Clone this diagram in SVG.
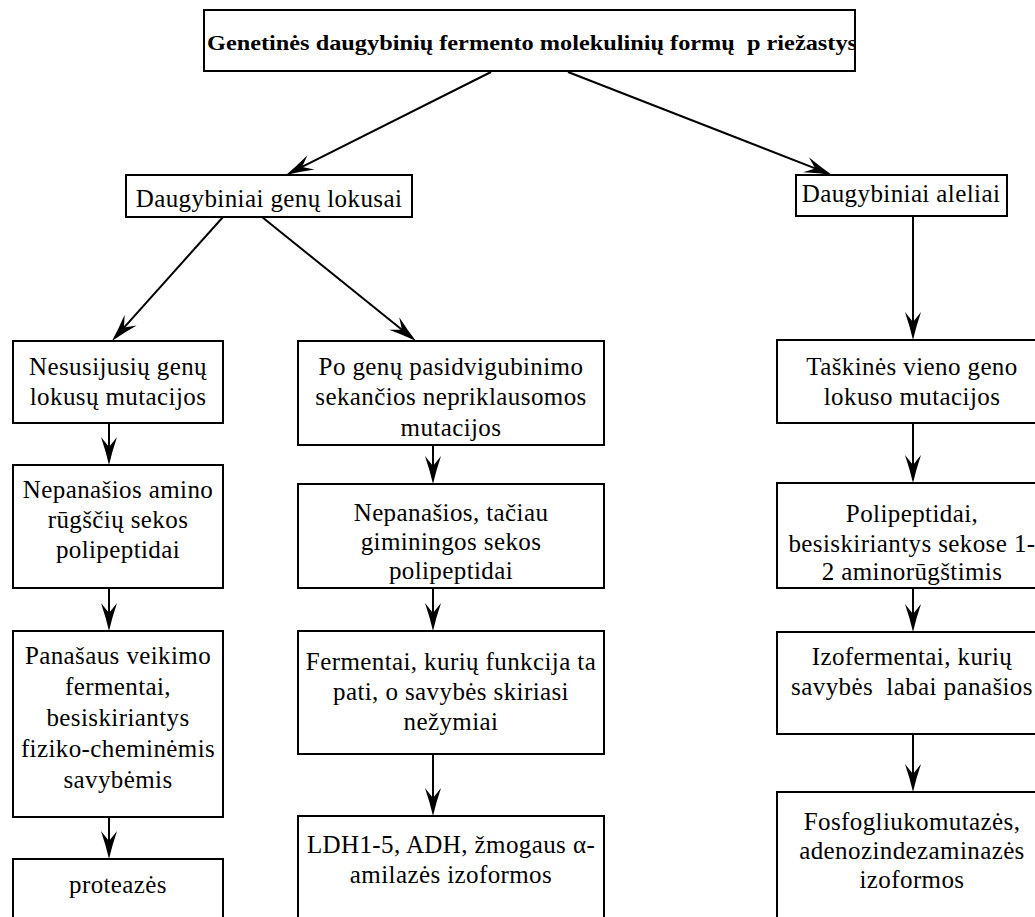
<svg xmlns="http://www.w3.org/2000/svg" width="1035" height="917" viewBox="0 0 1035 917">
<style>
.box{fill:#fff;stroke:#000;stroke-width:2}
.t{font-family:"Liberation Serif","Times New Roman",serif;font-size:25px;letter-spacing:0.4px;fill:#000;text-anchor:middle}
.title{font-family:"Liberation Serif","Times New Roman",serif;font-size:22px;font-weight:bold;fill:#000}
.c{stroke:#000;stroke-width:2;fill:none;marker-end:url(#ah)}
</style>
<defs>
<marker id="ah" markerUnits="userSpaceOnUse" viewBox="-29 -9 30 18" markerWidth="30" markerHeight="18" refX="-14" refY="0" orient="auto">
<path d="M0,0 Q-13,-3 -28,-8 L-18,0 L-28,8 Q-13,3 0,0 Z" fill="#000"/>
</marker>
<clipPath id="tc"><rect x="205" y="11" width="649" height="59"/></clipPath>
</defs>
<rect width="1035" height="917" fill="#fff"/>
<g id="connectors">
<line class="c" x1="491" y1="72" x2="298.5" y2="168.7"/>
<line class="c" x1="568" y1="72" x2="819" y2="169.9"/>
<line class="c" x1="223" y1="217" x2="121.3" y2="330.6"/>
<line class="c" x1="262" y1="217" x2="405.1" y2="332.2"/>
<line class="c" x1="109" y1="423" x2="109" y2="451"/>
<line class="c" x1="109" y1="588" x2="109" y2="617"/>
<line class="c" x1="109" y1="817" x2="109" y2="845"/>
<line class="c" x1="433" y1="445" x2="433" y2="470"/>
<line class="c" x1="433" y1="588" x2="433" y2="617"/>
<line class="c" x1="433" y1="754" x2="433" y2="802"/>
<line class="c" x1="913" y1="216" x2="913" y2="326"/>
<line class="c" x1="913" y1="423" x2="913" y2="469"/>
<line class="c" x1="913" y1="588" x2="913" y2="618"/>
<line class="c" x1="913" y1="734" x2="913" y2="778"/>
</g>
<g id="n-title">
<rect class="box" x="204" y="10" width="651" height="61"/>
<text class="title" x="207" y="50" textLength="650" lengthAdjust="spacingAndGlyphs" clip-path="url(#tc)" xml:space="preserve">Genetinės daugybinių fermento molekulinių formų  p riežastys</text>
</g>
<g id="n-lokusai">
<rect class="box" x="126" y="175" width="286" height="42"/>
<text class="t" x="269" y="207">Daugybiniai genų lokusai</text>
</g>
<g id="n-aleliai">
<rect class="box" x="796" y="175" width="211" height="41"/>
<text class="t" x="901" y="202">Daugybiniai aleliai</text>
</g>
<g id="n-l1">
<rect class="box" x="13" y="341" width="210" height="82"/>
<text class="t" x="118" y="375">Nesusijusių genų</text>
<text class="t" x="118" y="405">lokusų mutacijos</text>
</g>
<g id="n-l2">
<rect class="box" x="13" y="465" width="210" height="123"/>
<text class="t" x="118" y="498">Nepanašios amino</text>
<text class="t" x="118" y="528">rūgščių sekos</text>
<text class="t" x="118" y="558">polipeptidai</text>
</g>
<g id="n-l3">
<rect class="box" x="13" y="631" width="210" height="186"/>
<text class="t" x="118" y="664">Panašaus veikimo</text>
<text class="t" x="118" y="695">fermentai,</text>
<text class="t" x="118" y="726">besiskiriantys</text>
<text class="t" x="118" y="757">fiziko-cheminėmis</text>
<text class="t" x="118" y="788">savybėmis</text>
</g>
<g id="n-l4">
<rect class="box" x="13" y="859" width="210" height="80"/>
<text class="t" x="118" y="893">proteazės</text>
</g>
<g id="n-m1">
<rect class="box" x="298" y="341" width="306" height="104"/>
<text class="t" x="451" y="375">Po genų pasidvigubinimo</text>
<text class="t" x="451" y="405">sekančios nepriklausomos</text>
<text class="t" x="451" y="436">mutacijos</text>
</g>
<g id="n-m2">
<rect class="box" x="298" y="484" width="306" height="104"/>
<text class="t" x="451" y="521">Nepanašios, tačiau</text>
<text class="t" x="451" y="550">giminingos sekos</text>
<text class="t" x="451" y="579">polipeptidai</text>
</g>
<g id="n-m3">
<rect class="box" x="298" y="631" width="306" height="123"/>
<text class="t" x="451" y="670">Fermentai, kurių funkcija ta</text>
<text class="t" x="451" y="700">pati, o savybės skiriasi</text>
<text class="t" x="451" y="730">nežymiai</text>
</g>
<g id="n-m4">
<rect class="box" x="298" y="816" width="306" height="120"/>
<text class="t" x="451" y="853">LDH1-5, ADH, žmogaus α-</text>
<text class="t" x="451" y="883">amilazės izoformos</text>
</g>
<g id="n-r1">
<rect class="box" x="777" y="340" width="270" height="83"/>
<text class="t" x="912" y="375">Taškinės vieno geno</text>
<text class="t" x="912" y="405">lokuso mutacijos</text>
</g>
<g id="n-r2">
<rect class="box" x="777" y="483" width="270" height="105"/>
<text class="t" x="912" y="522">Polipeptidai,</text>
<text class="t" x="912" y="552">besiskiriantys sekose 1-</text>
<text class="t" x="912" y="580">2 aminorūgštimis</text>
</g>
<g id="n-r3">
<rect class="box" x="777" y="632" width="270" height="102"/>
<text class="t" x="912" y="665">Izofermentai, kurių</text>
<text class="t" x="912" y="695" xml:space="preserve">savybės  labai panašios</text>
</g>
<g id="n-r4">
<rect class="box" x="777" y="792" width="270" height="140"/>
<text class="t" x="912" y="830">Fosfogliukomutazės,</text>
<text class="t" x="912" y="859">adenozindezaminazės</text>
<text class="t" x="912" y="888">izoformos</text>
</g>
</svg>
